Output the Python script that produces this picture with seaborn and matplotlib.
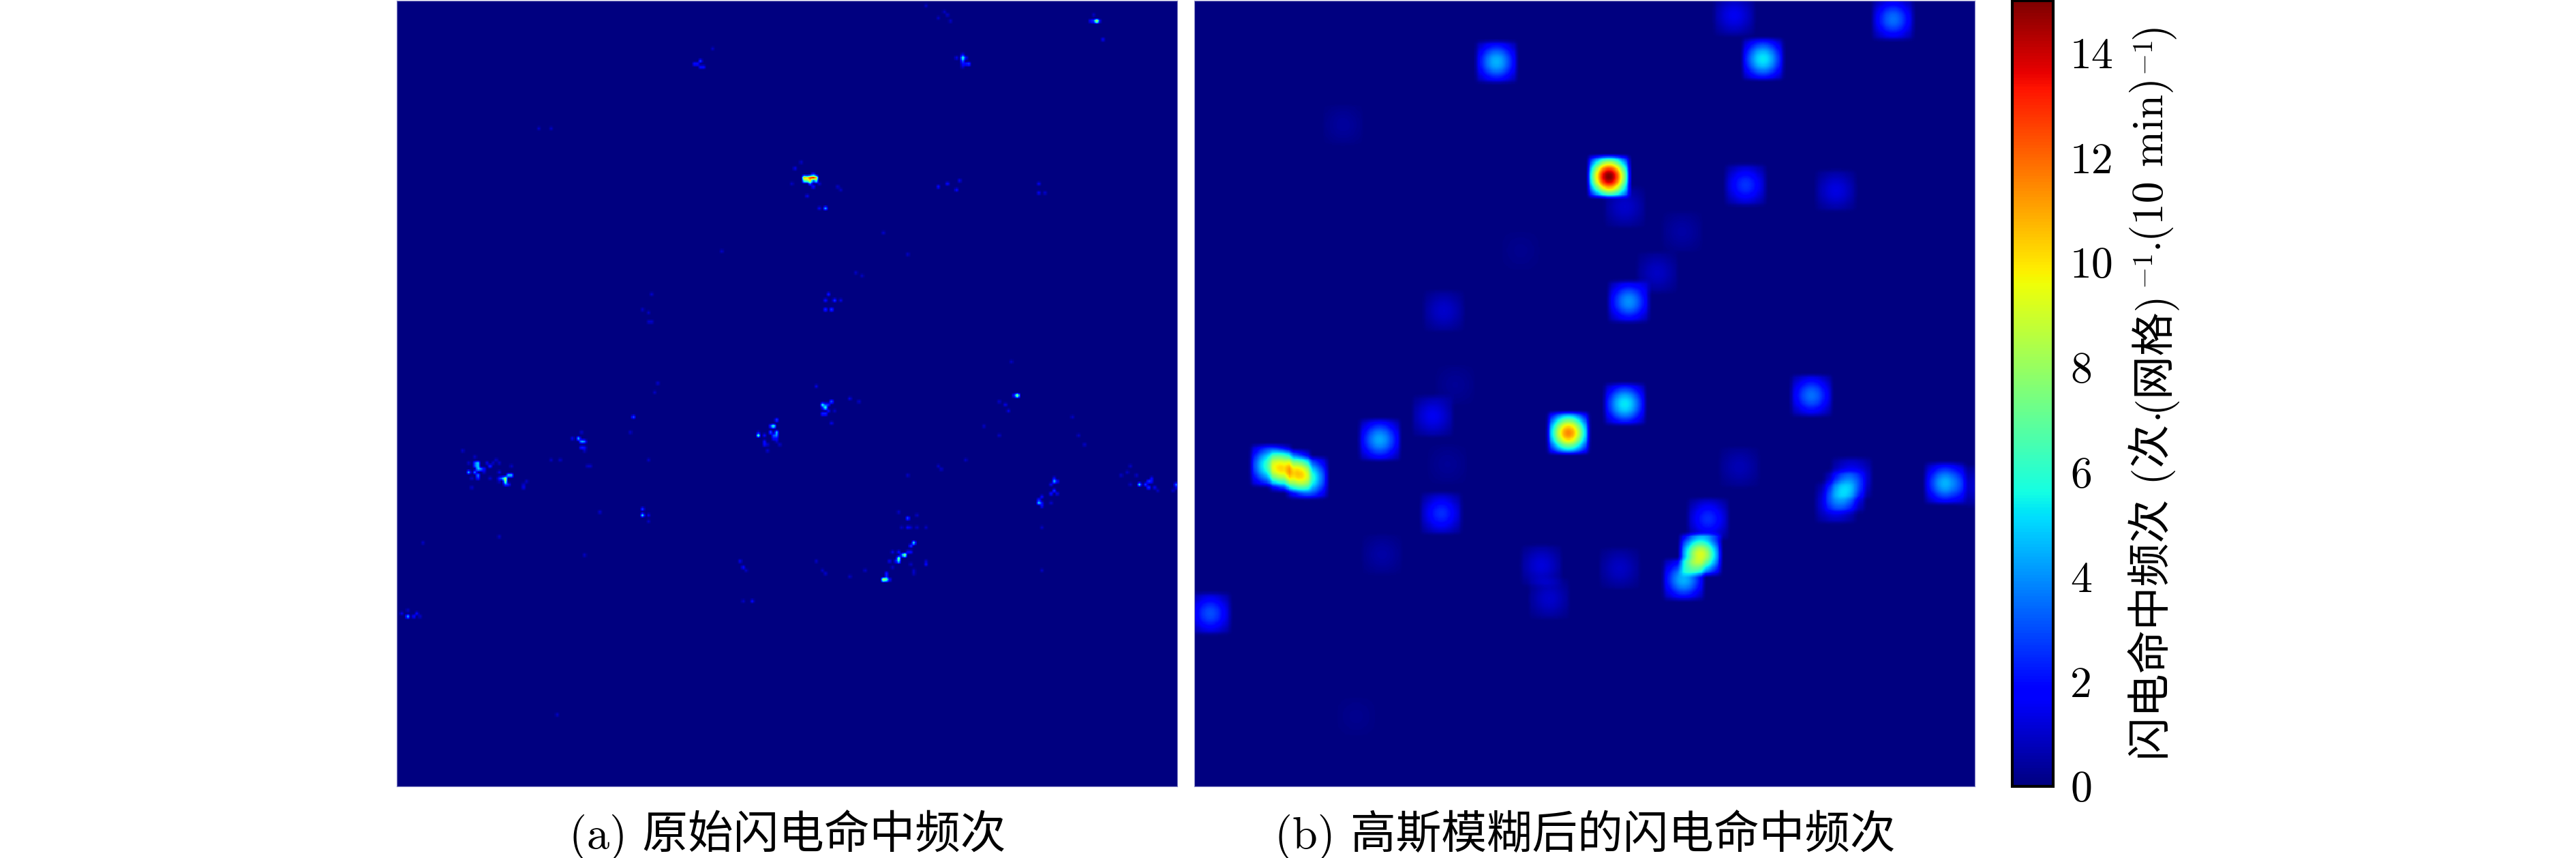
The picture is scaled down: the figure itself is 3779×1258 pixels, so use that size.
import matplotlib
matplotlib.use('Agg')
import matplotlib.pyplot as plt
import seaborn as sns
import numpy as np

# raw strike counts per grid cell
raw_rows = [
    150, 151, 151, 150, 152, 152, 152, 153, 153, 154, 155, 151, 150, 149, 150, 150, 148, 146, 150, 155, 158, 155, 153, 151, 153,
    154, 154, 155, 155, 155, 156, 157, 157, 156, 156, 157, 158,
    142, 143, 143, 142, 145, 145, 146, 140, 149, 149, 151,
    138, 136, 138, 140, 140, 141, 141, 142, 142, 143, 141, 141, 141, 143, 140, 144, 144, 146, 144,
    131, 132, 132, 130, 131, 131, 133, 134, 134, 133, 137, 129, 130, 125,
    57, 57, 57, 57, 57, 58, 58, 58, 58, 58, 56, 59, 60, 59, 52, 54, 59, 63, 67, 67, 60, 61,
    176, 177, 179, 179, 180, 180, 181, 182, 179, 179, 182, 182, 184, 183, 183, 186, 186, 187, 188, 188, 188,
    168, 166, 167, 171, 171, 171, 171, 171,
    156, 155, 156, 157, 159, 160, 160, 163, 161, 162, 163, 164, 163,
    157, 157, 156, 157, 158, 155, 156, 158, 159, 154, 154, 153, 151, 157, 158, 159,
    18, 19, 17, 18, 20, 20, 18, 20, 21,
    6, 6, 6, 4, 6, 12, 3, 4, 6,
    19, 21, 20, 20, 21, 15, 1, 5, 41, 41, 60, 59, 61, 58, 59, 62, 62, 75, 82, 81, 88, 89,
    95, 97, 97, 100, 100, 97, 95, 100, 101, 104, 104, 124, 127, 135, 140,
    117, 128, 128, 131, 133, 130, 135, 141, 144, 141, 138, 151, 152, 149, 154, 149, 151,
    167, 165, 167, 169, 166, 180, 174, 176, 184, 182, 185, 185, 182, 186, 187, 185, 182, 185, 185, 171,
    195, 195, 232, 200, 198, 200, 199, 200, 199,
]
raw_cols = [
    26, 26, 25, 25, 26, 27, 28, 23, 25, 26, 26, 30, 29, 32, 33, 31, 25, 21, 23, 24, 24, 30, 28, 37, 33,
    37, 36, 35, 34, 33, 35, 35, 36, 33, 42, 41, 41,
    59, 60, 61, 57, 60, 61, 61, 60, 50, 53, 62,
    123, 124, 122, 124, 122, 124, 123, 124, 123, 124, 118, 118, 120, 120, 118, 120, 121, 121, 125,
    139, 140, 139, 142, 141, 140, 141, 139, 140, 143, 142, 148, 151, 137,
    133, 134, 135, 136, 137, 133, 134, 135, 136, 137, 136, 135, 136, 138, 132, 130, 129, 134, 138, 140, 144, 145,
    169, 168, 168, 167, 166, 165, 164, 164, 164, 162, 161, 163, 162, 168, 173, 169, 160, 160, 161, 159, 160,
    167, 164, 170, 168, 165, 167, 170, 173,
    215, 215, 216, 214, 215, 214, 216, 210, 211, 210, 211, 211, 214,
    243, 240, 246, 245, 246, 247, 247, 248, 249, 242, 237, 239, 240, 255, 255, 254,
    185, 185, 185, 186, 186, 187, 183, 185, 185,
    229, 228, 227, 228, 230, 231, 179, 180, 181,
    99, 100, 98, 97, 99, 103, 173, 177, 46, 50, 177, 180, 183, 184, 210, 210, 212, 159, 167, 106, 150, 152,
    141, 143, 140, 142, 140, 145, 83, 80, 82, 82, 83, 85, 84, 77, 76,
    201, 203, 202, 199, 200, 197, 221, 223, 225, 197, 192, 177, 178, 186, 167, 82, 63,
    80, 80, 82, 82, 66, 61, 33, 8, 113, 112, 114, 139, 137, 140, 148, 153, 173, 169, 211, 211,
    116, 113, 52, 3, 3, 5, 6, 7, 1,
]
raw_counts = [
    5, 5, 3, 3, 5, 4, 2, 5, 4, 4, 2.5, 2.5, 1.5, 1, 1, 1, 1, 1, 1, 1, 1, 1, 1, 1, 1.5,
    5, 5, 9, 4, 2.5, 8, 3, 2.5, 1, 1, 1, 1.5,
    5, 5, 4, 1.5, 2.5, 2, 1, 1, 1, 1, 1,
    7, 3, 3, 5, 3.5, 4, 3, 2, 2, 1, 5, 2.5, 2, 2, 1, 2, 1, 1, 1,
    6, 6, 2, 3.5, 2.5, 3, 2, 2.5, 2.5, 1, 1.5, 1.5, 1, 1.5,
    11, 10, 13, 14, 11, 7, 8, 10, 3.5, 7, 2.5, 3.5, 2, 1, 1, 1.5, 1, 1.5, 1.5, 4.5, 1, 1,
    6, 3, 2, 2, 9, 3, 8, 6, 2, 1.5, 1.5, 1.5, 1, 1, 2, 1, 2.5, 2.5, 2, 9, 7,
    3.5, 1, 1, 1, 1, 2, 1, 1,
    5, 2, 2, 1.5, 3, 2, 1.5, 5, 2, 2, 2, 2, 1,
    6, 1, 3, 3, 3, 2, 2, 1.5, 1, 1, 1, 1, 1, 4, 1.5, 1,
    6.5, 3.5, 2, 2, 2, 3, 1.5, 2, 1,
    9, 3, 2, 1, 1.5, 1.5, 1, 1, 1,
    3, 2, 2, 2, 2, 1, 1, 1, 1, 1, 2, 2, 2, 1.5, 1.5, 1.5, 1, 1, 1, 1, 1, 1,
    2.5, 3, 2, 3, 2.5, 1.5, 1, 1, 1, 1, 1, 1, 1, 3.5, 1,
    1, 9, 3, 1.5, 1.5, 1, 1, 1, 1, 1, 1, 1, 1, 1, 1, 1, 1,
    6, 3, 1.5, 1, 1, 1, 1, 1, 2, 1.5, 1, 1, 1, 1, 1, 1, 1, 1, 1, 1,
    2, 1, 1, 5, 1, 2, 2, 1, 1.5,
]

# centres and peak values of the blurred blobs in panel (b), same grid
blob_rows = [19.3, 18.4, 5.4, 4.1, 39.8, 56.7, 59.4, 61.2, 66.5, 74.6, 88, 80.8, 97.4, 100.4, 124.5, 130.8, 128,
             140.2, 134.7, 142.4, 150.8, 154.8, 152.5, 151.3, 168.2, 179.8, 187.9, 159.3, 154.9, 162.9, 156.6,
             157.5, 166.4, 179.8, 183.4, 194.1, 184.3, 199, 232.5, 150.4]
blob_cols = [98.5, 185.9, 228.6, 176.5, 48.2, 135.4, 180.2, 209.8, 140.6, 159.4, 151.2, 106.4, 141.9, 81.2, 85, 140.6, 201.8,
             122.1, 77.6, 60.2, 24.6, 36.4, 30.8, 178.2, 167.9, 165.4, 159.9, 212.7, 215, 209.8, 245.7,
             255.2, 80.4, 61, 113.2, 115.8, 138.9, 4.6, 52.5, 82.4]
blob_peaks = [4.5, 5.3, 3.5, 1.5, 0.4, 15, 2.6, 1.3, 1, 0.5, 0.9, 0.2, 4, 1, 0.3, 5.3, 3.5,
              11.5, 1.5, 4.3, 6.5, 6.5, 7, 0.7, 2.5, 9.2, 4.5, 3, 2, 2, 4.5,
              1, 2.5, 0.5, 1.2, 1, 0.9, 3, 0.2, 0.3]

cbar_ticks = [0, 2, 4, 6, 8, 10, 12, 14]
caption_a = "(a) 原始闪电命中频次"
caption_b = "(b) 高斯模糊后的闪电命中频次"
# colorbar label, drawn bottom to top: text, font size, x centre in pixels
cbar_label_parts = [
    ("闪电命中频次 (次", 46, 3157),
    (r"$\cdot$", 46, 3165),
    ("(网格)", 46, 3157),
    (r"$-1$", 30, 3147),
    (r"$\cdot$", 46, 3165),
    ("(10 min)", 46, 3157),
    (r"$-1$", 30, 3147),
    (")", 46, 3157),
]

GRID = 256
FINE = 4  # both panels are drawn on a finer grid so they stay smooth
SIGMA = 4.3
RADIUS = 5.8
RAMP = 1.8

sns.set_theme(style='white')
plt.rcParams['font.family'] = ['cmr10', 'Noto Sans CJK SC', 'DejaVu Sans']
plt.rcParams['mathtext.fontset'] = 'cm'

W, H = 3780, 1258
fig = plt.figure(figsize=(W / 100, H / 100), dpi=100)


def axes_px(left, top, right, bottom):
    return fig.add_axes([left / W, 1 - bottom / H, (right - left) / W, (bottom - top) / H])


ax_a = axes_px(582, 1, 1727, 1153)
ax_b = axes_px(1752, 1, 2897, 1153)
cax = axes_px(2952, 1, 3012, 1153)

n = GRID * FINE
centres = (np.arange(n) - FINE / 2) / FINE

# bilinear display of the raw cells, like the smoothed pixels in the source
raw = np.zeros((n, n))
for r, c, p in zip(raw_rows, raw_cols, raw_counts):
    tent_r = np.clip(1 - np.abs(centres - r), 0, 1)
    tent_c = np.clip(1 - np.abs(centres - c), 0, 1)
    raw += p * np.outer(tent_r, tent_c)

# truncated gaussian kernel around each blob gives the rounded square look
blurred = np.zeros((n, n))
for r, c, p in zip(blob_rows, blob_cols, blob_peaks):
    d_r = centres - r
    d_c = centres - c
    g_r = np.exp(-d_r ** 2 / (2 * SIGMA ** 2)) * np.clip((RADIUS + RAMP - np.abs(d_r)) / RAMP, 0, 1)
    g_c = np.exp(-d_c ** 2 / (2 * SIGMA ** 2)) * np.clip((RADIUS + RAMP - np.abs(d_c)) / RAMP, 0, 1)
    blurred += p * np.outer(g_r, g_c)

sns.heatmap(raw, ax=ax_a, cmap='jet', vmin=0, vmax=15, cbar=False,
            xticklabels=False, yticklabels=False, rasterized=True)
sns.heatmap(blurred, ax=ax_b, cmap='jet', vmin=0, vmax=15, cbar_ax=cax,
            xticklabels=False, yticklabels=False, rasterized=True,
            cbar_kws={'ticks': cbar_ticks})

for ax in (ax_a, ax_b):
    for s in ax.spines.values():
        s.set_visible(True)
        s.set_color('#8a8ac8')
        s.set_linewidth(0.8)

cbar = ax_b.collections[0].colorbar
cbar.outline.set_visible(True)
cbar.outline.set_edgecolor('black')
cbar.outline.set_linewidth(3)
cax.tick_params(axis='y', direction='in', length=13, width=1.4, color='black', right=True,
                labelsize=46, pad=18, labelcolor='black')

fig.text(1155 / W, 1 - 1224 / H, caption_a, ha='center', va='center', fontsize=48, color='black')
fig.text(2325 / W, 1 - 1224 / H, caption_b, ha='center', va='center', fontsize=48, color='black')

# the label mixes fonts and superscripts, so lay it out piece by piece
renderer = fig.canvas.get_renderer()
y_px = 1115
for part, size, x_px in cbar_label_parts:
    t = fig.text(x_px / W, 1 - y_px / H, part, ha='center', va='bottom', rotation=90,
                 fontsize=size, color='black')
    y_px -= t.get_window_extent(renderer).height + 2

fig.savefig('out.png', dpi=100, facecolor='white')
plt.close(fig)
